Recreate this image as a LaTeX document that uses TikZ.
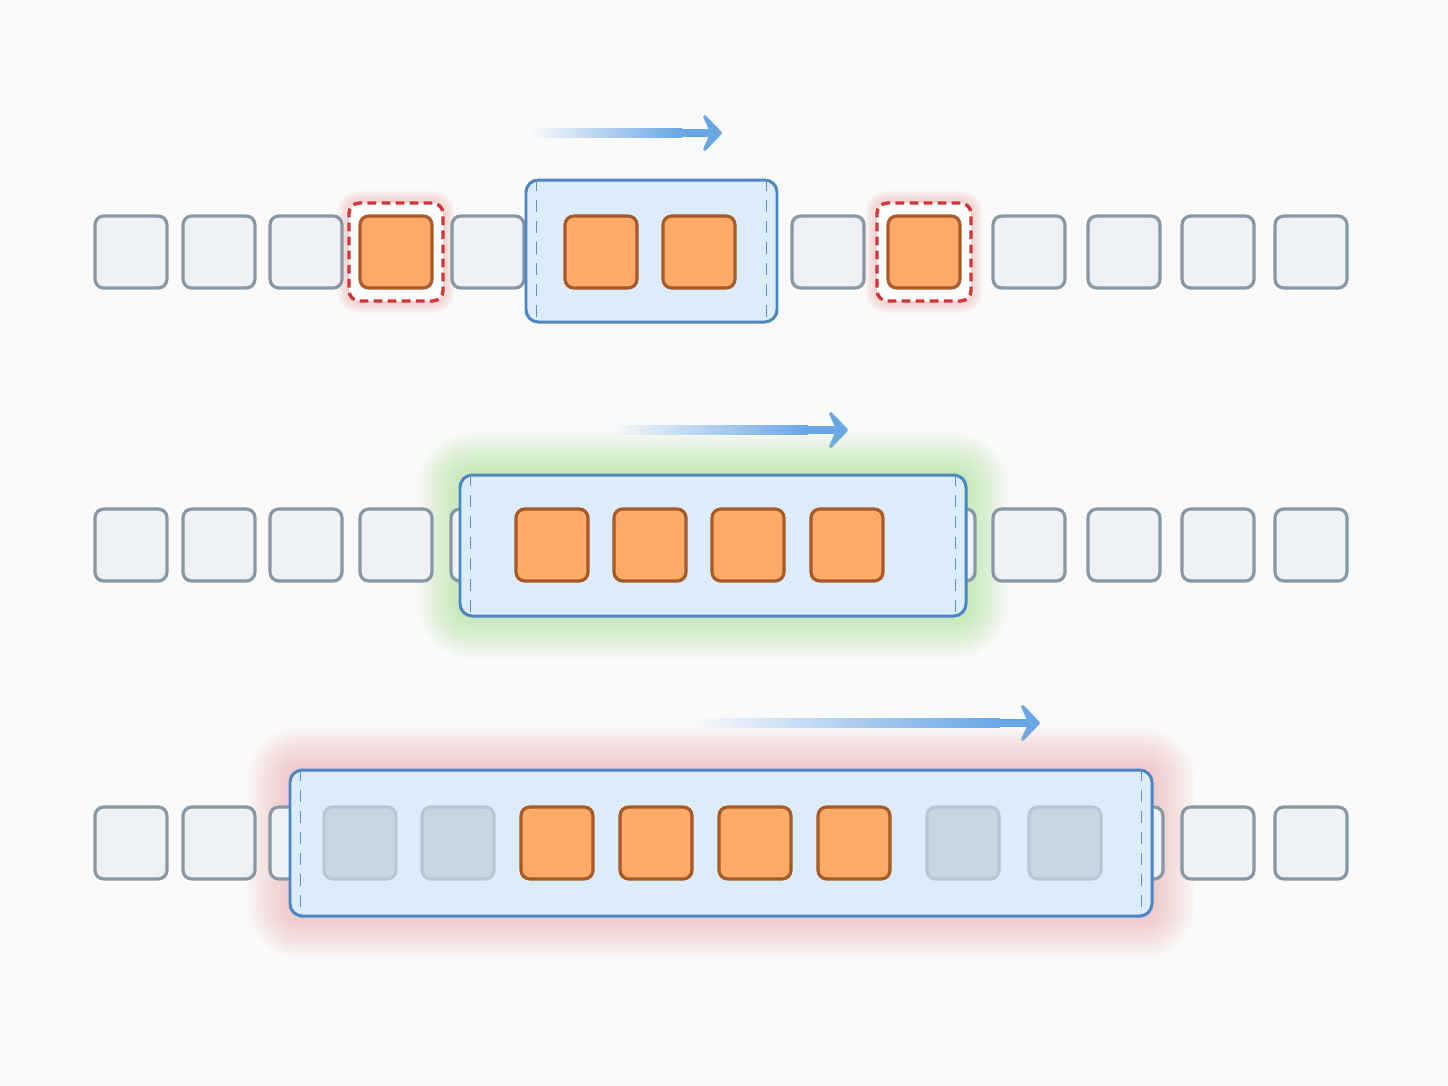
\documentclass[tikz,border=0pt]{standalone}
\usepackage{tikz}
\usetikzlibrary{arrows.meta,fit}
\definecolor{bgcol}{HTML}{FAFAFA}
\definecolor{cellfill}{HTML}{EEF1F5}
\definecolor{cellline}{HTML}{8797A5}
\definecolor{hotfill}{HTML}{FDAA66}
\definecolor{hotline}{HTML}{A65A28}
\definecolor{dimfill}{HTML}{C9D6E2}
\definecolor{dimline}{HTML}{B8C7D4}
\definecolor{winfill}{HTML}{DDECFA}
\definecolor{winline}{HTML}{4A86C6}
\definecolor{flowblue}{HTML}{68A6E6}
\definecolor{alertred}{HTML}{D23636}
\definecolor{glowgreen}{HTML}{99DE7F}
\definecolor{glowred}{HTML}{F09F9F}

\begin{document}
\begin{tikzpicture}[x=0.02cm,y=-0.02cm,
  cell/.style={draw=cellline,fill=cellfill,line width=1.8pt,rounded corners=5pt,minimum size=1.44cm,inner sep=0pt},
  hot/.style={cell,draw=hotline,fill=hotfill},
  dim/.style={cell,draw=dimline,fill=dimfill},
  win/.style={draw=winline,fill=winfill,line width=1.7pt,rounded corners=7pt,inner sep=0pt},
  guide/.style={winline!90,line width=1.1pt,dash pattern=on 7pt off 5pt},
  alert/.style={draw=alertred,fill=white,line width=1.9pt,dash pattern=on 5pt off 3pt,rounded corners=6pt,minimum width=1.88cm,minimum height=1.96cm,inner sep=0pt},
  flow/.style={flowblue,line width=5pt,-{Stealth[length=13pt,width=27pt,inset=6pt,round]}}]

  \fill[bgcol] (0,0) rectangle (1448,1086);

  \foreach \i/\a/\b/\y in {1/530/722/133,2/610/848/430,3/690/1040/723} {
    \coordinate (f\i-s) at (\a,\y);
    \coordinate (f\i-m) at (\b-40,\y);
    \coordinate (f\i-e) at (\b,\y);
    \shade[left color=bgcol,right color=flowblue] ([yshift=-2.5pt]f\i-s) rectangle ([yshift=2.5pt]f\i-m);
    \draw[flow] ([xshift=-1pt]f\i-m) -- (f\i-e);
  }

  \foreach \x in {396,924} {
    \foreach \w in {2,4,...,14} { \draw[glowred, line width=\w pt, opacity=.07, rounded corners=6pt] (\x-47,203) rectangle (\x+47,301); }
    \node[alert] (h\x) at (\x,252) {};
  }
  \foreach \x in {131,219,306,488,828,1029,1124,1218,1311} { \node[cell] (a\x) at (\x,252) {}; }
  \coordinate (w1a) at (526,180);
  \coordinate (w1b) at (777,322);
  \node[win, fit=(w1a)(w1b)] (w1) {};
  \draw[guide] ([xshift=0.24cm]w1.north west) -- ([xshift=0.24cm]w1.south west);
  \draw[guide] ([xshift=-0.24cm]w1.north east) -- ([xshift=-0.24cm]w1.south east);
  \foreach \x in {396,601,699,924} { \node[hot] (a\x) at (\x,252) {}; }

  \coordinate (w2a) at (460,475);
  \coordinate (w2b) at (966,616);
  \foreach \w in {4,8,...,48} { \draw[glowgreen, line width=\w pt, opacity=.05, line join=round, rounded corners=6pt] (w2a) rectangle (w2b); }
  \foreach \x in {131,219,306,396,487,939,1029,1124,1218,1311} { \node[cell] (b\x) at (\x,545) {}; }
  \node[win, fit=(w2a)(w2b)] (w2) {};
  \draw[guide] ([xshift=0.24cm]w2.north west) -- ([xshift=0.24cm]w2.south west);
  \draw[guide] ([xshift=-0.24cm]w2.north east) -- ([xshift=-0.24cm]w2.south east);
  \foreach \x in {552,650,748,847} { \node[hot] (b\x) at (\x,545) {}; }

  \coordinate (w3a) at (290,770);
  \coordinate (w3b) at (1152,916);
  \foreach \w in {4,8,...,48} { \draw[glowred, line width=\w pt, opacity=.05, line join=round, rounded corners=6pt] (w3a) rectangle (w3b); }
  \foreach \x in {131,219,306,1127,1218,1311} { \node[cell] (c\x) at (\x,843) {}; }
  \node[win, fit=(w3a)(w3b)] (w3) {};
  \draw[guide] ([xshift=0.24cm]w3.north west) -- ([xshift=0.24cm]w3.south west);
  \draw[guide] ([xshift=-0.24cm]w3.north east) -- ([xshift=-0.24cm]w3.south east);
  \foreach \x in {360,458,963,1065} { \node[dim] (c\x) at (\x,843) {}; }
  \foreach \x in {557,656,755,854} { \node[hot] (c\x) at (\x,843) {}; }
\end{tikzpicture}
\end{document}
